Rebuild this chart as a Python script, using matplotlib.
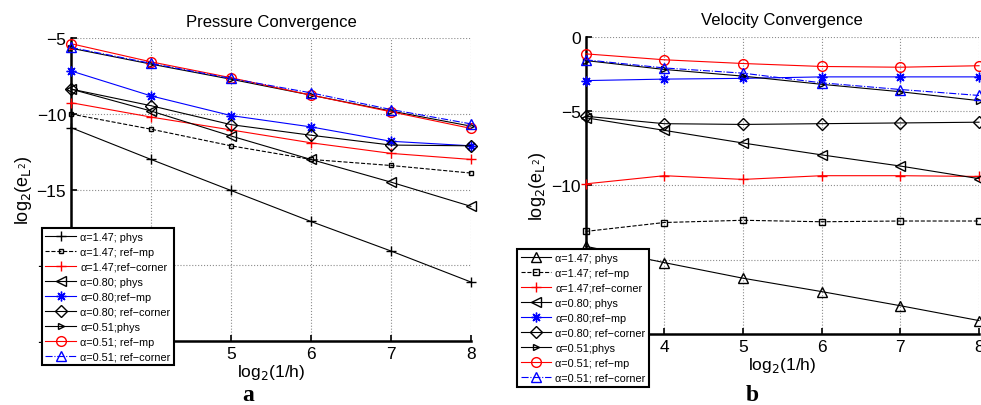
import numpy as np
import matplotlib
matplotlib.use("Agg")
import matplotlib.pyplot as plt

plt.rcParams['font.family'] = ['Liberation Sans', 'DejaVu Sans']

# Data
x = [3, 4, 5, 6, 7, 8]

labels = ["α=1.47; phys", "α=1.47; ref−mp", "α=1.47;ref−corner",
          "α=0.80; phys", "α=0.80;ref−mp", "α=0.80; ref−corner",
          "α=0.51;phys", "α=0.51; ref−mp", "α=0.51; ref−corner"]

# pressure errors
p_147_phys = [-10.9, -13.0, -15.05, -17.1, -19.05, -21.1]
p_147_mp = [-10.0, -11.0, -12.1, -13.0, -13.4, -13.9]
p_147_corner = [-9.25, -10.2, -11.05, -11.9, -12.6, -13.0]
p_080_phys = [-8.35, -9.8, -11.45, -13.0, -14.5, -16.1]
p_080_mp = [-7.15, -8.8, -10.1, -10.85, -11.8, -12.1]
p_080_corner = [-8.35, -9.45, -10.7, -11.4, -12.05, -12.1]
p_051_phys = [-5.65, -6.7, -7.7, -8.75, -9.8, -10.8]
p_051_mp = [-5.35, -6.55, -7.6, -8.75, -9.85, -10.95]
p_051_corner = [-5.6, -6.65, -7.65, -8.6, -9.7, -10.65]

# velocity errors
v_147_phys = [-14.1, -15.2, -16.25, -17.15, -18.1, -19.1]
v_147_mp = [-13.1, -12.5, -12.35, -12.45, -12.4, -12.4]
v_147_corner = [-9.9, -9.35, -9.6, -9.35, -9.35, -9.4]
v_080_phys = [-5.45, -6.3, -7.15, -7.95, -8.7, -9.55]
v_080_mp = [-2.95, -2.85, -2.8, -2.7, -2.7, -2.7]
v_080_corner = [-5.35, -5.85, -5.9, -5.85, -5.8, -5.75]
v_051_phys = [-1.6, -2.2, -2.65, -3.2, -3.7, -4.3]
v_051_mp = [-1.15, -1.55, -1.8, -2.0, -2.05, -1.95]
v_051_corner = [-1.55, -2.1, -2.45, -3.1, -3.55, -3.95]

pressure = [p_147_phys, p_147_mp, p_147_corner, p_080_phys, p_080_mp,
            p_080_corner, p_051_phys, p_051_mp, p_051_corner]
velocity = [v_147_phys, v_147_mp, v_147_corner, v_080_phys, v_080_mp,
            v_080_corner, v_051_phys, v_051_mp, v_051_corner]

# matlab style asterisk: plus and cross together
star = (8, 2, 0)

# styles: (color, linestyle, marker, markersize)
p_styles = [("k", "-", "+", 7), ("k", "--", "s", 3.5), ("r", "-", "+", 7),
            ("k", "-", "<", 7), ("b", "-", star, 7), ("k", "-", "D", 6),
            ("k", "-", ">", 4), ("r", "-", "o", 7), ("b", "-.", "^", 7)]
v_styles = [("k", "-", "^", 7), ("k", "--", "s", 5), ("r", "-", "+", 7),
            ("k", "-", "<", 7), ("b", "-", star, 7), ("k", "-", "D", 6),
            ("k", "-", ">", 4), ("r", "-", "o", 7), ("b", "-.", "^", 7)]

fig = plt.figure(figsize=(9.81, 4.06), dpi=100)

ax1 = fig.add_axes([0.0724, 0.1576, 0.4076, 0.7454])
ax2 = fig.add_axes([0.597, 0.175, 0.401, 0.732])


def draw(ax, data, styles, ylim, yticks, title, legend_pos):
    for vals, (c, ls, m, ms), lab in zip(data, styles, labels):
        ax.plot(x, vals, color=c, linestyle=ls, marker=m, markersize=ms,
                markerfacecolor="none", markeredgecolor=c, linewidth=0.8,
                label=lab, clip_on=False, zorder=3)
    ax.set_xlim(3, 8)
    ax.set_ylim(*ylim)
    ax.set_xticks(x)
    ax.set_yticks(yticks)
    ax.grid(True, linestyle=":", color="0.55", linewidth=0.8)
    ax.spines["top"].set_visible(False)
    ax.spines["right"].set_visible(False)
    ax.spines["left"].set_linewidth(1.8)
    ax.spines["bottom"].set_linewidth(1.8)
    ax.tick_params(direction="in", labelsize=12.5, length=4, width=1.2)
    ax.set_title(title, fontsize=12, pad=9)
    ax.set_xlabel(r"log$_2$(1/h)", fontsize=12.5, labelpad=1)
    ax.set_ylabel(r"log$_2$(e$_{\mathrm{L}^2}$)", fontsize=13, labelpad=2)
    leg = ax.legend(loc="upper left", bbox_to_anchor=legend_pos,
                    bbox_transform=fig.transFigure, fontsize=7.8,
                    fancybox=False, framealpha=1, edgecolor="k",
                    handlelength=2.8, labelspacing=0.46, borderpad=0.35,
                    handletextpad=0.4, borderaxespad=0)
    leg.get_frame().set_linewidth(1.5)
    leg.set_zorder(5)


draw(ax1, pressure, p_styles, (-25, -5), [-25, -20, -15, -10, -5],
     "Pressure Convergence", (0.0425, 0.436))
draw(ax2, velocity, v_styles, (-20, 0), [-20, -15, -10, -5, 0],
     "Velocity Convergence", (0.527, 0.384))

fig.text(0.253, 0.012, "a", fontsize=17, fontweight="bold",
         family="Liberation Serif", ha="center")
fig.text(0.767, 0.012, "b", fontsize=17, fontweight="bold",
         family="Liberation Serif", ha="center")

fig.savefig("out.png", dpi=100)
